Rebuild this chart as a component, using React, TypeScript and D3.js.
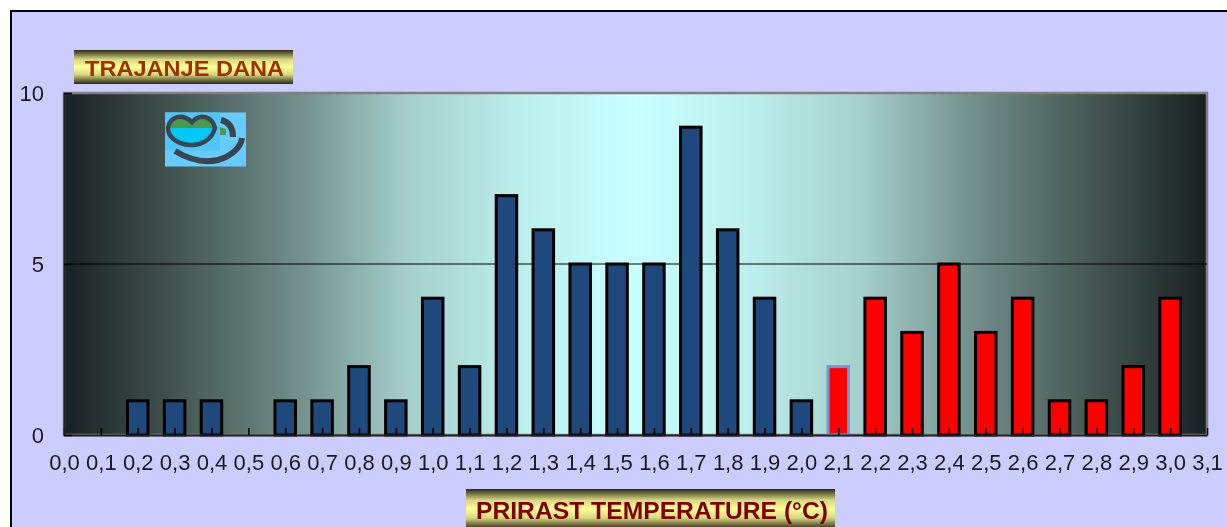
import React, { useEffect, useRef } from "react";
import * as d3 from "d3";

const categories = [
  "0,0", "0,1", "0,2", "0,3", "0,4", "0,5", "0,6", "0,7", "0,8", "0,9", "1,0",
  "1,1", "1,2", "1,3", "1,4", "1,5", "1,6", "1,7", "1,8", "1,9", "2,0", "2,1",
  "2,2", "2,3", "2,4", "2,5", "2,6", "2,7", "2,8", "2,9", "3,0", "3,1",
];
const days = [
  0, 0, 1, 1, 1, 0, 1, 1, 2, 1, 4, 2, 7, 6, 5, 5, 5, 9, 6, 4, 1, 2, 4, 3, 5, 3,
  4, 1, 1, 2, 4, 0,
];
const redFrom = "2,1";
const outlined = "2,1";
const yTicks = [0, 5, 10];
const yTitle = "TRAJANJE DANA";
const xTitle = "PRIRAST TEMPERATURE (°C)";

const width = 1227;
const height = 527;
const plot = { left: 64, right: 1207, top: 93, bottom: 435 };
const barWidth = 20.5;
const font = "'Liberation Sans', Arial, sans-serif";

const x = d3.scalePoint<string>().domain(categories).range([plot.left, plot.right]);
const y = d3.scaleLinear().domain([0, 10]).range([plot.bottom, plot.top]);

const Logo: React.FC = () => (
  <g>
    <rect x={165} y={112.5} width={81} height={54} fill="#66ccff" />
    <rect x={165} y={112.5} width={55} height={38} fill="#4fc6fb" />
    <path d="M168,128 C170,116 182,113 192,122 C200,113 212,116 215,128 Z" fill="#4a9a4a" />
    <path d="M168,128 H215 C212,140 200,146 190,145 C178,144 168,138 168,128 Z" fill="#00c8fa" />
    <path d="M220,127 L226,129 L226,135 L220,135 Z" fill="#4a9a4a" />
    <path
      d="M168,128 C170,116 182,113 192,122 C200,113 212,116 215,128 C212,140 200,146 190,145 C178,144 168,138 168,128 Z"
      fill="none"
      stroke="#39454f"
      strokeWidth={4.5}
    />
    <path d="M221,120 C229,122 233,128 233,137" fill="none" stroke="#39454f" strokeWidth={6} />
    <path
      d="M175,151 C190,160 205,163 218,160 C232,156 241,147 242,138"
      fill="none"
      stroke="#39454f"
      strokeWidth={6}
    />
  </g>
);

const App: React.FC = () => {
  const xAxisRef = useRef<SVGGElement>(null);
  const yAxisRef = useRef<SVGGElement>(null);

  useEffect(() => {
    const xAxis = d3.axisBottom(x).tickSizeInner(-7).tickSizeOuter(0).tickPadding(19);
    const yAxis = d3
      .axisLeft(y)
      .tickValues(yTicks)
      .tickSizeInner(-8)
      .tickSizeOuter(0)
      .tickPadding(20);

    const xg = d3.select(xAxisRef.current as SVGGElement).call(xAxis as any);
    const yg = d3.select(yAxisRef.current as SVGGElement).call(yAxis as any);

    [xg, yg].forEach((g) => {
      g.selectAll("text")
        .attr("font-family", font)
        .attr("font-size", 22)
        .attr("fill", "#1a1a1a");
      g.selectAll(".tick line").attr("stroke", "#000").attr("stroke-width", 1.5);
      g.select(".domain").attr("stroke", "#222").attr("stroke-width", 2);
    });
  }, []);

  const redStart = categories.indexOf(redFrom);

  return (
    <svg
      width={width}
      height={height}
      viewBox={`0 0 ${width} ${height}`}
      style={{ position: "absolute", left: 0, top: 0, filter: "blur(0.5px)" }}
    >
      <defs>
        <linearGradient id="plotBg" x1="0" x2="1" y1="0" y2="0">
          <stop offset="0" stopColor="#182020" />
          <stop offset="0.1" stopColor="#445652" />
          <stop offset="0.2" stopColor="#6f8c88" />
          <stop offset="0.3" stopColor="#a5cfcb" />
          <stop offset="0.4" stopColor="#bcefec" />
          <stop offset="0.5" stopColor="#c8ffff" />
          <stop offset="0.6" stopColor="#bcefec" />
          <stop offset="0.7" stopColor="#a5cfcb" />
          <stop offset="0.8" stopColor="#6f8c88" />
          <stop offset="0.9" stopColor="#445652" />
          <stop offset="1" stopColor="#182020" />
        </linearGradient>
        <linearGradient id="titleBg" x1="0" x2="0" y1="0" y2="1">
          <stop offset="0" stopColor="#2a2a14" />
          <stop offset="0.28" stopColor="#d8d880" />
          <stop offset="0.5" stopColor="#ffff99" />
          <stop offset="0.72" stopColor="#d8d880" />
          <stop offset="1" stopColor="#2a2a14" />
        </linearGradient>
      </defs>

      <rect width={width} height={height} fill="#fff" />
      <rect x={11} y={11} width={width} height={height} fill="#ccccff" stroke="#000" strokeWidth={2} />

      <rect
        x={plot.left}
        y={plot.top}
        width={plot.right - plot.left}
        height={plot.bottom - plot.top}
        fill="url(#plotBg)"
        stroke="#808080"
        strokeWidth={2.5}
      />
      <line x1={plot.left} x2={plot.right} y1={y(5)} y2={y(5)} stroke="#000" strokeWidth={1} />

      <Logo />

      {categories.map((c, i) =>
        days[i] > 0 ? (
          <rect
            key={c}
            x={(x(c) as number) - barWidth / 2}
            y={y(days[i])}
            width={barWidth}
            height={y(0) - y(days[i])}
            fill={i >= redStart ? "#ff0000" : "#1f497d"}
            stroke={c === outlined ? "#6f9bd1" : "#000"}
            strokeWidth={3}
          />
        ) : null
      )}

      <g ref={xAxisRef} transform={`translate(0,${plot.bottom})`} />
      <g ref={yAxisRef} transform={`translate(${plot.left},0)`} />

      <rect x={74} y={50} width={219} height={34} fill="url(#titleBg)" />
      <text
        x={85}
        y={75.5}
        fontFamily={font}
        fontWeight="bold"
        fontSize={22}
        fill="#a03000"
        textLength={199}
        lengthAdjust="spacingAndGlyphs"
      >
        {yTitle}
      </text>

      <rect x={466} y={489} width={369} height={40} fill="url(#titleBg)" />
      <text
        x={476}
        y={519}
        fontFamily={font}
        fontWeight="bold"
        fontSize={23}
        fill="#800000"
        textLength={352}
        lengthAdjust="spacingAndGlyphs"
      >
        {xTitle}
      </text>
    </svg>
  );
};

export default App;
